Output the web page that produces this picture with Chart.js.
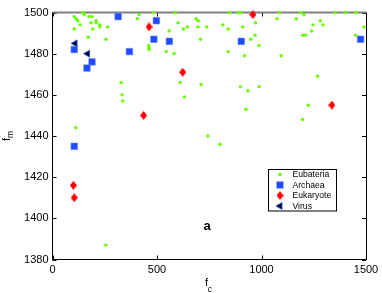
<!DOCTYPE html>
<html>
<head>
<meta charset="utf-8">
<script src="https://cdn.jsdelivr.net/npm/chart.js@4/dist/chart.umd.min.js"></script>
<style>
  body { margin: 0; background: #fff; }
  #wrap { width: 382px; height: 293px; position: relative; }
</style>
</head>
<body>
<div id="wrap"><canvas id="fmChart"></canvas></div>
<script>
// values
const xTicks = [0, 500, 1000, 1500];
const yTicks = [1380, 1400, 1420, 1440, 1460, 1480, 1500];

const eubX = [104, 113, 121, 132, 104, 145, 152, 174, 189, 184, 209, 209, 226, 226, 192, 264, 171, 256, 328, 333,
  336, 111, 406, 414, 482, 460, 462, 462, 544, 558, 587, 601, 626, 645, 582, 611, 631, 711, 708, 687,
  697, 696, 738, 743, 847, 890, 899, 1086, 1186, 1203, 1353, 1401, 1453, 815, 841, 910, 971, 1074, 1166, 1281,
  1247, 1294, 1490, 1240, 1197, 1211, 1450, 969, 948, 988, 841, 919, 1094, 1268, 899, 935, 989, 1224, 925, 1196,
  802, 255];
const eubY = [1498, 1497, 1496, 1494, 1492, 1500, 1499, 1498, 1498, 1495, 1496, 1495, 1494, 1493, 1492, 1493, 1488, 1487, 1466, 1460,
  1457, 1444, 1497, 1499, 1500, 1484, 1483, 1482, 1481, 1491, 1500, 1495, 1492, 1493, 1480, 1466, 1459, 1465, 1487, 1497,
  1496, 1493, 1493, 1440, 1500, 1500, 1500, 1500, 1500, 1499, 1500, 1500, 1500, 1494, 1492, 1493, 1495, 1497, 1497, 1496,
  1494, 1494, 1493, 1491, 1489, 1489, 1489, 1489, 1487, 1484, 1481, 1479, 1479, 1469, 1464, 1462, 1464, 1455, 1453, 1448,
  1436, 1387];

const archX = [314, 497, 485, 559, 368, 104, 189, 165, 903, 1474, 104];
const archY = [1498, 1496, 1487, 1486, 1481, 1482, 1476, 1473, 1486, 1487, 1435];

const eukX = [462, 623, 436, 959, 1337, 100, 104];
const eukY = [1493, 1471, 1450, 1499, 1455, 1416, 1410];

const virX = [108, 168];
const virY = [1485, 1480];

const toPoints = (xs, ys) => xs.map((v, i) => ({ x: v, y: ys[i] }));

// taller-than-wide red diamond
const diamond = document.createElement('canvas');
diamond.width = 7;
diamond.height = 9;
const dctx = diamond.getContext('2d');
dctx.fillStyle = '#ff0000';
dctx.beginPath();
dctx.moveTo(3.5, 0);
dctx.lineTo(7, 4.5);
dctx.lineTo(3.5, 9);
dctx.lineTo(0, 4.5);
dctx.closePath();
dctx.fill();

const styles = [
  { label: 'Eubateria', pointStyle: 'circle', radius: 1.7, backgroundColor: '#66ff00', borderColor: '#66ff00', borderWidth: 0, rotation: 0 },
  { label: 'Archaea', pointStyle: 'rect', radius: 4.6, backgroundColor: '#1f4bff', borderColor: '#5a7dff', borderWidth: 0.6, rotation: 0 },
  { label: 'Eukaryote', pointStyle: diamond, radius: 4.5, backgroundColor: '#ff0000', borderColor: '#ff0000', borderWidth: 0, rotation: 0 },
  { label: 'Virus', pointStyle: 'triangle', radius: 4, backgroundColor: '#000000', borderColor: '#2f5bff', borderWidth: 1, rotation: -90 }
];
const series = [toPoints(eubX, eubY), toPoints(archX, archY), toPoints(eukX, eukY), toPoints(virX, virY)];

const frame = {
  id: 'frame',
  beforeDatasetsDraw(chart) {
    const { ctx, chartArea: a, scales: { x, y } } = chart;
    ctx.save();
    ctx.strokeStyle = '#000';
    ctx.lineWidth = 1;
    ctx.beginPath();
    yTicks.forEach(v => {
      const py = Math.round(y.getPixelForValue(v)) + 0.5;
      ctx.moveTo(a.left, py); ctx.lineTo(a.left + 4, py);
      ctx.moveTo(a.right, py); ctx.lineTo(a.right - 4, py);
    });
    xTicks.forEach(v => {
      const px = Math.round(x.getPixelForValue(v)) + 0.5;
      ctx.moveTo(px, a.bottom); ctx.lineTo(px, a.bottom - 4);
      ctx.moveTo(px, a.top); ctx.lineTo(px, a.top + 4);
    });
    ctx.moveTo(Math.round(a.right) + 0.5, a.top);
    ctx.lineTo(Math.round(a.right) + 0.5, a.bottom);
    ctx.stroke();
    // top edge is grey in the original
    ctx.strokeStyle = '#808080';
    ctx.lineWidth = 2;
    ctx.beginPath();
    ctx.moveTo(a.left, a.top);
    ctx.lineTo(a.right + 0.5, a.top);
    ctx.stroke();
    ctx.restore();
  },
  afterDraw(chart) {
    const ctx = chart.ctx;
    ctx.save();
    // legend
    ctx.fillStyle = '#fff';
    ctx.fillRect(268, 169.5, 69, 41.5);
    ctx.strokeStyle = '#000';
    ctx.lineWidth = 1;
    ctx.strokeRect(268.5, 169.5, 68, 41.5);
    const rows = [174.5, 185, 195.5, 206];
    ctx.font = '8.6px "Liberation Sans", Arial, sans-serif';
    ctx.textBaseline = 'middle';
    ctx.textAlign = 'left';
    styles.forEach((s, i) => {
      ctx.fillStyle = s.backgroundColor;
      ctx.strokeStyle = s.borderColor;
      ctx.lineWidth = s.borderWidth;
      Chart.helpers.drawPoint(ctx, {
        pointStyle: s.pointStyle, radius: s.radius, rotation: s.rotation, borderWidth: s.borderWidth
      }, 280, rows[i]);
      ctx.fillStyle = '#000';
      ctx.fillText(s.label, 292.5, rows[i] + 0.5);
    });
    // panel letter
    ctx.font = 'bold 13px "Liberation Sans", Arial, sans-serif';
    ctx.textAlign = 'center';
    ctx.textBaseline = 'alphabetic';
    ctx.fillText('a', 207, 229.5);
    // x title f_c
    ctx.textAlign = 'left';
    ctx.font = '11px "Liberation Sans", Arial, sans-serif';
    ctx.fillText('f', 205, 286);
    ctx.font = '8.5px "Liberation Sans", Arial, sans-serif';
    ctx.fillText('c', 207.8, 291.5);
    // y title f'_m, rotated
    ctx.translate(10, 141);
    ctx.rotate(-Math.PI / 2);
    ctx.font = '11px "Liberation Sans", Arial, sans-serif';
    ctx.fillText('f', 0, 0);
    ctx.font = '8.5px "Liberation Sans", Arial, sans-serif';
    ctx.fillText('m', 3, 2.5);
    ctx.font = '8px "DejaVu Sans", sans-serif';
    ctx.fillText("'", 3.5, -5);
    ctx.restore();
  }
};

new Chart(document.getElementById('fmChart'), {
  type: 'scatter',
  data: {
    datasets: series.map((pts, i) => ({
      label: styles[i].label,
      data: pts,
      pointStyle: styles[i].pointStyle,
      pointRadius: styles[i].radius,
      pointHoverRadius: styles[i].radius,
      pointRotation: styles[i].rotation,
      backgroundColor: styles[i].backgroundColor,
      borderColor: styles[i].borderColor,
      borderWidth: styles[i].borderWidth,
      order: 4 - i,
      clip: false
    }))
  },
  options: {
    responsive: true,
    maintainAspectRatio: false,
    animation: false,
    layout: { padding: { top: 12.5, right: 16, left: 0, bottom: 0 } },
    plugins: { legend: { display: false }, tooltip: { enabled: false } },
    scales: {
      x: {
        type: 'linear',
        min: 0, max: 1500,
        afterBuildTicks: s => { s.ticks = xTicks.map(v => ({ value: v })); },
        afterFit: s => { s.height = 33.5; },
        grid: { display: false, drawTicks: false },
        border: { display: true, color: '#000', width: 1 },
        ticks: { color: '#000', padding: 3.5, maxRotation: 0, callback: v => String(v), font: { family: '"Liberation Sans", Arial, sans-serif', size: 11 } }
      },
      y: {
        type: 'linear',
        min: 1380, max: 1500,
        afterBuildTicks: s => { s.ticks = yTicks.map(v => ({ value: v })); },
        afterFit: s => { s.width = 52.5; },
        grid: { display: false, drawTicks: false },
        border: { display: true, color: '#000', width: 1 },
        ticks: { color: '#000', padding: 4, callback: v => String(v), font: { family: '"Liberation Sans", Arial, sans-serif', size: 11 } }
      }
    }
  },
  plugins: [frame]
});
</script>
</body>
</html>
